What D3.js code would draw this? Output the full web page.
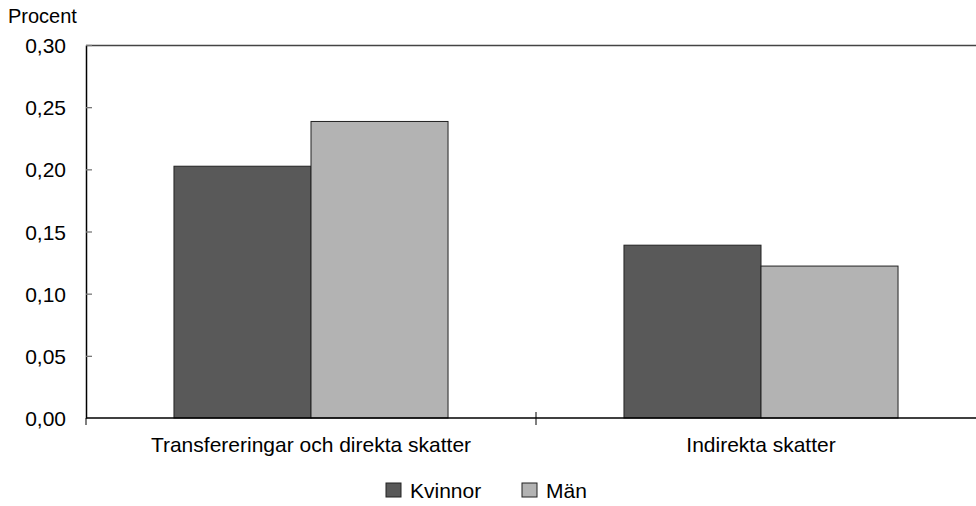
<!DOCTYPE html>
<html>
<head>
<meta charset="utf-8">
<script src="https://cdn.jsdelivr.net/npm/d3@7"></script>
<style>
  body { margin: 0; background: #fff; }
  text { font-family: Arial, "Liberation Sans", sans-serif; fill: #000; }
</style>
</head>
<body>
<div class="chart"></div>
<script>
// data
var categories = ["Transfereringar och direkta skatter", "Indirekta skatter"];
var seriesNames = ["Kvinnor", "Män"];
var kvinnor = [0.2025, 0.139];
var man = [0.2385, 0.1222];
var yTicks = [0, 0.05, 0.10, 0.15, 0.20, 0.25, 0.30];

var colors = ["#595959", "#b3b3b3"];

var W = 976, H = 506;
var margin = {top: 45, left: 86, bottom: 88},
    w = 900, // plot runs past the right edge, as in the original
    h = H - margin.top - margin.bottom;

var svg = d3.select(".chart")
            .append("svg")
            .attr("width", W)
            .attr("height", H);

var g = svg.append("g")
           .attr("transform", "translate(" + margin.left + "," + margin.top + ")");

var x0 = d3.scaleBand()
           .domain(categories)
           .range([0, w])
           .paddingInner(0)
           .paddingOuter(0);

var x1 = d3.scaleBand()
           .domain(seriesNames)
           .range([0, x0.bandwidth()])
           .paddingOuter(0.642)   // bars take ~61% of each category
           .paddingInner(0);

var y = d3.scaleLinear()
          .domain([0, 0.30])
          .range([h, 0]);

var rows = categories.map(function(c, i) {
    return {cat: c, values: [kvinnor[i], man[i]]};
});

// frame: top line
g.append("line")
 .attr("x1", 0).attr("x2", W)
 .attr("y1", 0.5).attr("y2", 0.5)
 .attr("stroke", "#444").attr("stroke-width", 1.3);

// bars
var grp = g.selectAll("g.cat")
           .data(rows)
           .enter()
           .append("g")
           .attr("class", "cat")
           .attr("transform", function(d) { return "translate(" + x0(d.cat) + ",0)"; });

grp.selectAll("rect")
   .data(function(d) { return d.values.map(function(v, i) { return {s: seriesNames[i], v: v, i: i}; }); })
   .enter()
   .append("rect")
   .attr("x", function(d) { return x1(d.s); })
   .attr("y", function(d) { return y(d.v); })
   .attr("width", x1.bandwidth())
   .attr("height", function(d) { return h - y(d.v); })
   .attr("fill", function(d) { return colors[d.i]; })
   .attr("stroke", "#222")
   .attr("stroke-width", 1);

// y axis
var yAxis = d3.axisLeft(y)
              .tickValues(yTicks)
              .tickSizeInner(-6)
              .tickSizeOuter(0)
              .tickPadding(20)
              .tickFormat(function(d) { return d3.format(".2f")(d).replace(".", ","); });

var ya = g.append("g").call(yAxis);
ya.select(".domain").attr("stroke", "#000").attr("stroke-width", 1.5);
ya.selectAll(".tick line").attr("stroke", "#777").attr("stroke-width", 1.3);
ya.selectAll(".tick text").style("font-size", "21px").attr("dy", "0.36em");
ya.selectAll(".tick").filter(function(d) { return d === 0; }).select("line").remove();

// x axis
var xa = g.append("g")
          .attr("transform", "translate(0," + h + ")");
xa.append("line")
  .attr("x1", 0).attr("x2", W)
  .attr("stroke", "#000").attr("stroke-width", 1.5);
xa.selectAll("line.tk")
  .data([0, x0.bandwidth()])
  .enter()
  .append("line")
  .attr("class", "tk")
  .attr("x1", function(d) { return d; })
  .attr("x2", function(d) { return d; })
  .attr("y1", function(d) { return d === 0 ? 0 : -6; })
  .attr("y2", 7)
  .attr("stroke", "#000").attr("stroke-width", 1);
xa.selectAll("text.cat")
  .data(categories)
  .enter()
  .append("text")
  .attr("x", function(d) { return x0(d) + x0.bandwidth() / 2; })
  .attr("y", 34)
  .attr("text-anchor", "middle")
  .style("font-size", "21px")
  .text(function(d) { return d; });

// y title
svg.append("text")
   .attr("x", 8)
   .attr("y", 23)
   .style("font-size", "20px")
   .text("Procent");

// legend
var legX = [386, 522];
var leg = svg.selectAll("g.leg")
             .data(seriesNames)
             .enter()
             .append("g")
             .attr("class", "leg")
             .attr("transform", function(d, i) { return "translate(" + legX[i] + ",483)"; });
leg.append("rect")
   .attr("width", 15).attr("height", 14)
   .attr("fill", function(d, i) { return colors[i]; })
   .attr("stroke", "#222");
leg.append("text")
   .attr("x", 24)
   .attr("y", 15)
   .style("font-size", "21px")
   .text(function(d) { return d; });
</script>
</body>
</html>
